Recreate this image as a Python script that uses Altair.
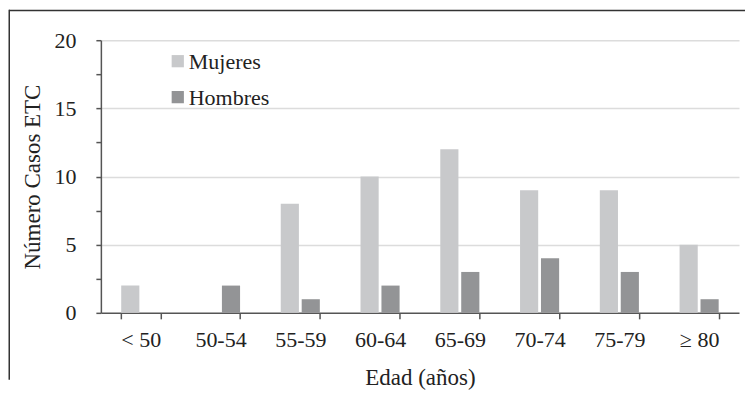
import altair as alt
import pandas as pd

categories = ["< 50", "50-54", "55-59", "60-64", "65-69", "70-74", "75-79", "≥ 80"]
mujeres = [2, 0, 8, 10, 12, 9, 9, 5]
hombres = [0, 2, 1, 2, 3, 4, 3, 1]
series = ["Mujeres", "Hombres"]
colors = ["#c8c9cb", "#939496"]

rows = []
for c, m, h in zip(categories, mujeres, hombres):
    rows.append({"Edad": c, "Sexo": "Mujeres", "Casos": m})
    rows.append({"Edad": c, "Sexo": "Hombres", "Casos": h})
df = pd.DataFrame(rows)
legend_df = pd.DataFrame({"Sexo": series})

FONT = "Liberation Serif"
TXT = "#222222"
color_enc = alt.Color("Sexo:N", sort=series,
                      scale=alt.Scale(domain=series, range=colors), legend=None)

bars = alt.Chart(df).mark_bar().encode(
    x=alt.X("Edad:N", sort=categories,
            scale=alt.Scale(paddingInner=0.51, paddingOuter=0.255),
            axis=alt.Axis(title="Edad (años)", labelAngle=0, tickBand="extent",
                          domainColor="#555555", domainWidth=1.5,
                          tickColor="#555555", tickWidth=1.5, tickSize=6,
                          labelPadding=11, titlePadding=16, grid=False,
                          labelFont=FONT, titleFont=FONT, labelFontSize=22, titleFontSize=23,
                          labelColor=TXT, titleColor=TXT, titleFontWeight="normal")),
    xOffset=alt.XOffset("Sexo:N", sort=series,
                        scale=alt.Scale(paddingInner=0.133, paddingOuter=0)),
    y=alt.Y("Casos:Q",
            scale=alt.Scale(domain=[0, 20], nice=False),
            axis=alt.Axis(title="Número Casos ETC",
                          values=[0, 2.5, 5, 7.5, 10, 12.5, 15, 17.5, 20],
                          labelExpr="datum.value % 5 == 0 ? datum.label : ''",
                          gridOpacity={"condition": {"test": "datum.value % 5 != 0 || datum.value == 0", "value": 0}, "value": 1},
                          gridColor="#dcdcdc", gridWidth=1.5,
                          domainColor="#555555", domainWidth=1.5,
                          tickColor="#555555", tickWidth=1.5, tickSize=5,
                          labelPadding=20, titlePadding=9,
                          labelFont=FONT, titleFont=FONT, labelFontSize=22, titleFontSize=23,
                          labelColor=TXT, titleColor=TXT, titleFontWeight="normal")),
    color=color_enc,
)

legend_y = alt.Y("Sexo:N", sort=series,
                 scale=alt.Scale(type="point", range=[21, 57], padding=0), axis=None)
leg_sym = alt.Chart(legend_df).mark_square(size=150, opacity=1).encode(
    x=alt.value(77), y=legend_y, color=color_enc)
leg_txt = alt.Chart(legend_df).mark_text(
    align="left", baseline="middle", font=FONT, fontSize=22, color=TXT, dy=1
).encode(x=alt.value(88), y=legend_y, text="Sexo:N")

frame = pd.DataFrame({"a": [0]})
top_line = alt.Chart(frame).mark_rect(color="#333333", clip=False).encode(
    x=alt.value(-92), x2=alt.value(645), y=alt.value(-30.5), y2=alt.value(-29))
left_line = alt.Chart(frame).mark_rect(color="#333333", clip=False).encode(
    x=alt.value(-92.5), x2=alt.value(-91), y=alt.value(-30.5), y2=alt.value(340))

chart = alt.layer(bars, leg_sym, leg_txt, top_line, left_line).resolve_scale(
    y="independent"
).properties(
    width=639, height=273,
    padding={"left": 0, "top": 1, "right": 0, "bottom": 0},
    background="white",
).configure(font=FONT).configure_view(stroke=None)

chart.save("out.html", embed_options={"renderer": "svg", "actions": False})
